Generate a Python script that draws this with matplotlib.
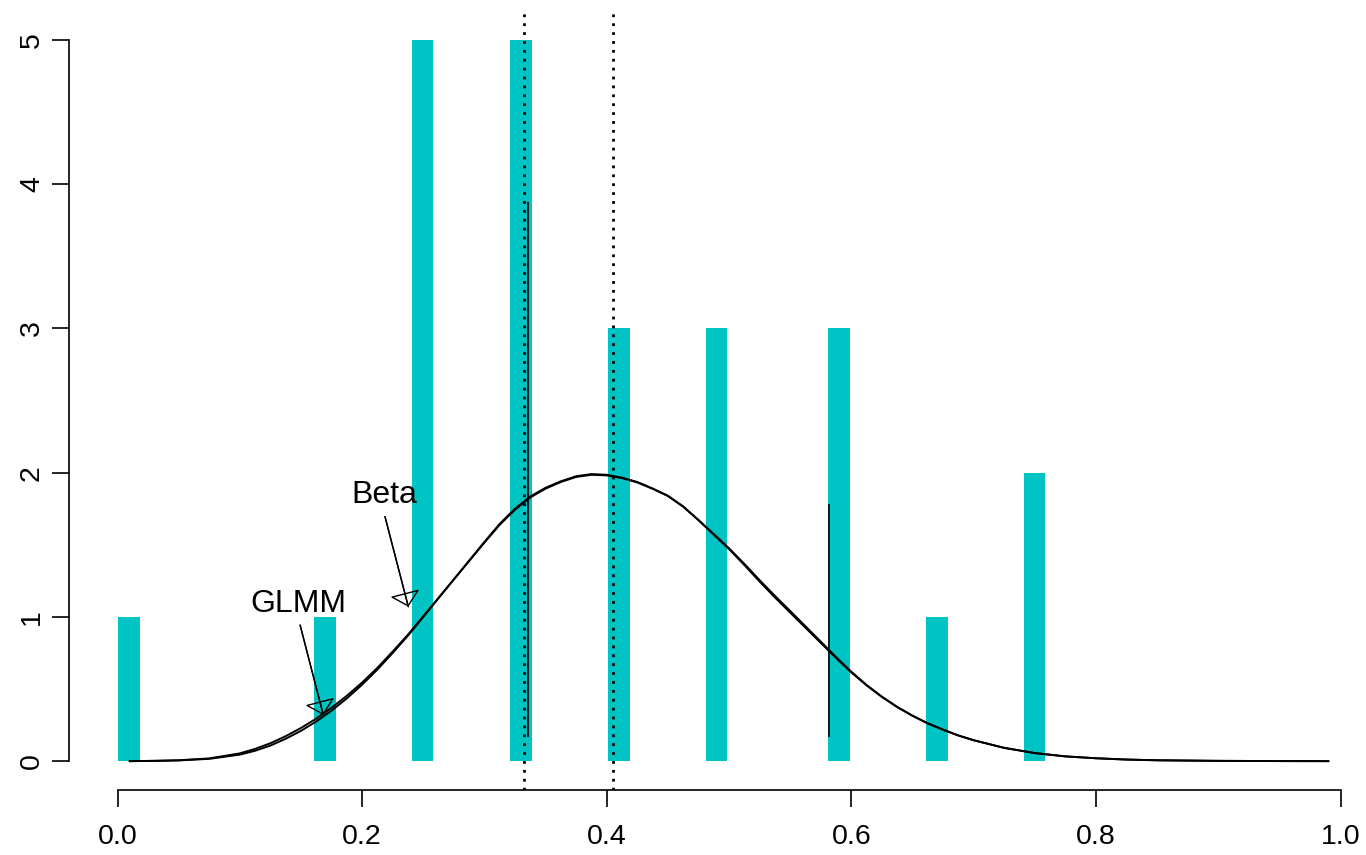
"""
plot of observed proportions with fitted Beta / GLMM densities
"""
import matplotlib.pyplot as plt
import numpy as np

plt.rcParams['font.family'] = ['Liberation Sans', 'DejaVu Sans']

# observed proportions (bar positions) and their counts
props = [0.0095, 0.1695, 0.2495, 0.33, 0.41, 0.49, 0.59, 0.67, 0.75]
counts = [1, 1, 5, 5, 3, 3, 3, 1, 2]

# fitted densities
dens_x = [0.01, 0.03, 0.05, 0.075, 0.1, 0.1125, 0.125, 0.1375, 0.15, 0.1625,
          0.175, 0.1875, 0.2, 0.2125, 0.225, 0.2375, 0.25, 0.2625, 0.275, 0.2875,
          0.3, 0.3125, 0.325, 0.3375, 0.35, 0.3625, 0.375, 0.3875, 0.4, 0.4125,
          0.425, 0.4375, 0.45, 0.4625, 0.475, 0.4875, 0.5, 0.5125, 0.525, 0.5375,
          0.55, 0.5625, 0.575, 0.5875, 0.6, 0.6125, 0.625, 0.6375, 0.65, 0.6625,
          0.675, 0.6875, 0.7, 0.725, 0.75, 0.775, 0.8, 0.825, 0.85, 0.9,
          0.95, 0.99]
beta_y = [0.0, 0.002, 0.005, 0.016, 0.045, 0.072, 0.108, 0.155, 0.21, 0.275,
          0.35, 0.435, 0.53, 0.635, 0.75, 0.87, 1.0, 1.13, 1.26, 1.39,
          1.52, 1.645, 1.75, 1.835, 1.895, 1.94, 1.975, 1.99, 1.985, 1.965,
          1.935, 1.89, 1.84, 1.765, 1.67, 1.57, 1.47, 1.36, 1.245, 1.135,
          1.03, 0.925, 0.82, 0.715, 0.615, 0.525, 0.445, 0.375, 0.315, 0.262,
          0.218, 0.178, 0.145, 0.092, 0.056, 0.033, 0.02, 0.011, 0.006, 0.002,
          0.0005, 0.0]
glmm_y = [0.0, 0.002, 0.006, 0.019, 0.054, 0.085, 0.124, 0.173, 0.23, 0.295,
          0.37, 0.453, 0.545, 0.647, 0.76, 0.877, 1.004, 1.132, 1.26, 1.387,
          1.515, 1.638, 1.743, 1.828, 1.889, 1.935, 1.97, 1.985, 1.981, 1.962,
          1.932, 1.888, 1.838, 1.765, 1.672, 1.574, 1.476, 1.368, 1.255, 1.146,
          1.041, 0.935, 0.829, 0.722, 0.62, 0.528, 0.447, 0.376, 0.315, 0.262,
          0.218, 0.178, 0.145, 0.092, 0.056, 0.033, 0.02, 0.011, 0.006, 0.002,
          0.0005, 0.0]

# intervals (thin black lines) and reference lines (dotted)
ci_x = [0.3354, 0.582]
ci_lo = [0.168, 0.168]
ci_hi = [3.877, 1.78]
ref_lines = [0.3326, 0.4054]

# labels: text position, arrow start, arrow tip
labels = ['Beta', 'GLMM']
label_xy = [(0.218, 1.845), (0.148, 1.09)]
arrow_from = [(0.2187, 1.695), (0.1493, 0.943)]
arrow_to = [(0.2378, 1.07), (0.1683, 0.319)]

fig = plt.figure(figsize=(13.66, 8.55), dpi=100)
ax = fig.add_axes([68.6 / 1366, 65 / 855, (1.0557 * 1223) / 1366, 779 / 855])
ax.set_xlim(-0.04, 1.0157)
ax.set_ylim(-0.2, 5.2)

ax.bar(props, counts, width=0.0175, color='#00C3C3', linewidth=0)

ax.plot(dens_x, beta_y, color='black', lw=1.4)
ax.plot(dens_x, glmm_y, color='black', lw=1.4)

for x in ref_lines:
    ax.axvline(x, color='black', lw=2, linestyle=(0, (1, 2.2)))

ax.vlines(ci_x, ci_lo, ci_hi, color='black', lw=1.2)

# text labels with open-triangle arrows (shaft runs through to the tip)
for lab, pos, a0, a1 in zip(labels, label_xy, arrow_from, arrow_to):
    ax.text(pos[0], pos[1], lab, fontsize=23, ha='center', va='center')
    ax.annotate('', xy=a1, xytext=a0,
                arrowprops=dict(arrowstyle='-', color='black', lw=1,
                                shrinkA=0, shrinkB=0))
    ax.annotate('', xy=a1, xytext=a0,
                arrowprops=dict(arrowstyle='-|>,head_length=0.45,head_width=0.48',
                                fc='none', ec='black', lw=1,
                                shrinkA=0, shrinkB=0, mutation_scale=20))

# R style axes
for s in ['top', 'right']:
    ax.spines[s].set_visible(False)
ax.spines['bottom'].set_bounds(0, 1)
ax.spines['left'].set_bounds(0, 5)
ax.spines['bottom'].set_linewidth(1.2)
ax.spines['left'].set_linewidth(1.2)
ax.set_xticks(np.arange(0, 1.01, 0.2))
ax.set_xticklabels(['0.0', '0.2', '0.4', '0.6', '0.8', '1.0'])
ax.set_yticks(range(6))
ax.tick_params(axis='both', length=12, width=1.2, labelsize=20.5)
ax.tick_params(axis='x', pad=12.5)
ax.tick_params(axis='y', pad=5)
for lbl in ax.get_yticklabels():
    lbl.set_rotation(90)
    lbl.set_va('center')

plt.savefig('out.png')
